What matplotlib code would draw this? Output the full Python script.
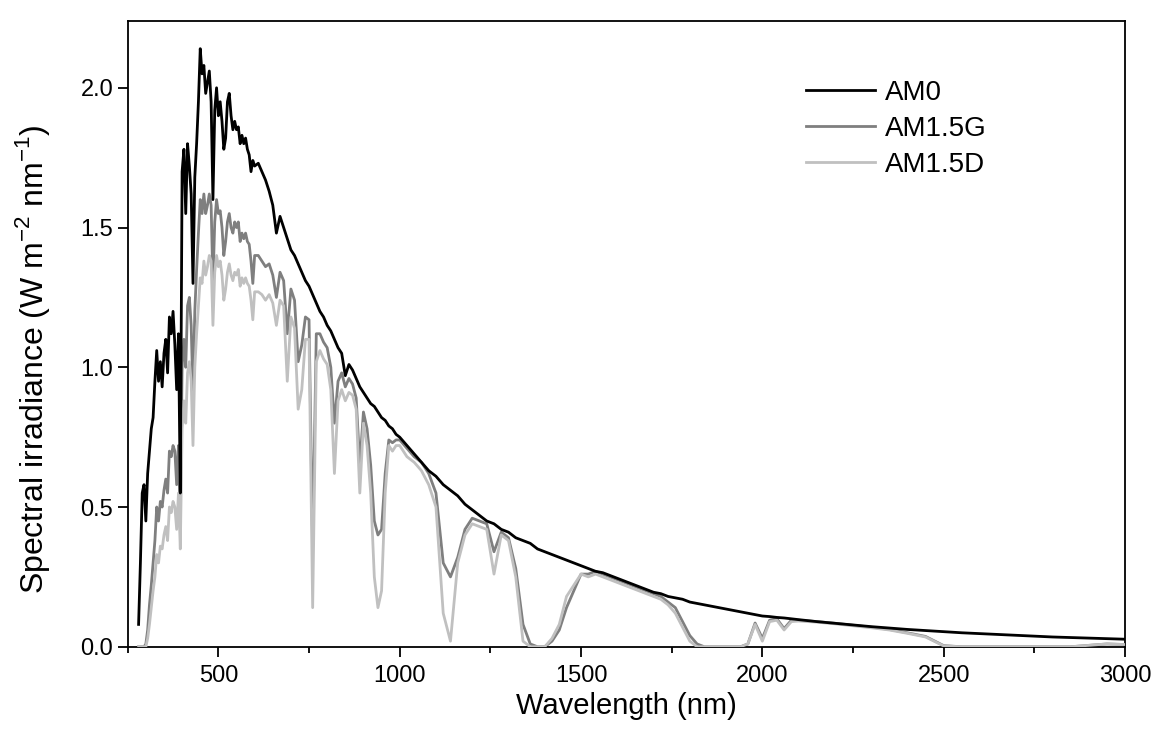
import numpy as np
import matplotlib
matplotlib.use('Agg')
import matplotlib.pyplot as plt
from matplotlib.ticker import MultipleLocator

plt.rcParams['font.family'] = ['Liberation Sans', 'DejaVu Sans']
plt.rcParams['mathtext.fontset'] = 'custom'
plt.rcParams['mathtext.rm'] = 'Liberation Sans'

# wavelength grid (nm)
wl_vis = list(range(280, 605, 5))
wl_nir = list(range(610, 1010, 10))
wl_swir = list(range(1020, 2120, 20))
wl_ir = list(range(2150, 3050, 50))
wavelength = np.array(wl_vis + wl_nir + wl_swir + wl_ir, dtype=float)

# AM0 extraterrestrial spectrum (W m-2 nm-1)
am0_vis = [0.08, 0.30, 0.55, 0.58, 0.45, 0.62, 0.70, 0.78, 0.82, 0.95,
           1.06, 0.95, 1.02, 0.93, 1.05, 1.10, 0.98, 1.18, 1.12, 1.20,
           1.08, 0.92, 1.12, 0.55, 1.70, 1.78, 1.55, 1.80, 1.72, 1.62,
           1.30, 1.68, 1.80, 1.95, 2.14, 2.05, 2.08, 1.98, 2.02, 2.06,
           1.95, 1.60, 1.92, 2.00, 1.90, 1.95, 1.88, 1.78, 1.82, 1.95,
           1.98, 1.90, 1.85, 1.88, 1.85, 1.86, 1.80, 1.83, 1.80, 1.82,
           1.78, 1.76, 1.70, 1.74, 1.72]
am0_nir = [1.73, 1.70, 1.67, 1.63, 1.58, 1.48, 1.54, 1.50, 1.46, 1.42,
           1.40, 1.37, 1.34, 1.31, 1.29, 1.26, 1.23, 1.20, 1.18, 1.15,
           1.13, 1.10, 1.07, 1.05, 0.97, 1.01, 0.99, 0.96, 0.93, 0.91,
           0.89, 0.87, 0.86, 0.84, 0.82, 0.81, 0.79, 0.78, 0.76, 0.75]
am0_swir = [0.72, 0.69, 0.66, 0.63, 0.61, 0.58, 0.56, 0.54, 0.51, 0.49,
            0.47, 0.45, 0.44, 0.42, 0.41, 0.39, 0.38, 0.37, 0.35, 0.34,
            0.33, 0.32, 0.31, 0.30, 0.29, 0.28, 0.27, 0.265, 0.255, 0.245,
            0.235, 0.225, 0.215, 0.205, 0.195, 0.19, 0.18, 0.175, 0.17, 0.16,
            0.155, 0.15, 0.145, 0.14, 0.135, 0.13, 0.125, 0.12, 0.115, 0.11,
            0.108, 0.105, 0.103, 0.100, 0.097]
am0_ir = [0.090, 0.084, 0.078, 0.072, 0.067, 0.062, 0.058, 0.054, 0.050,
          0.047, 0.044, 0.041, 0.038, 0.035, 0.033, 0.031, 0.029, 0.027]

# AM1.5 global
am15g_vis = [0.0, 0.0, 0.0, 0.0, 0.01, 0.06, 0.15, 0.22, 0.30, 0.38,
             0.50, 0.45, 0.52, 0.50, 0.56, 0.60, 0.55, 0.70, 0.68, 0.72,
             0.70, 0.58, 0.72, 0.45, 1.00, 1.10, 1.00, 1.22, 1.25, 1.15,
             0.90, 1.20, 1.35, 1.48, 1.60, 1.55, 1.62, 1.55, 1.58, 1.62,
             1.58, 1.30, 1.52, 1.60, 1.55, 1.56, 1.50, 1.40, 1.45, 1.52,
             1.55, 1.50, 1.48, 1.52, 1.50, 1.52, 1.45, 1.48, 1.46, 1.48,
             1.45, 1.44, 1.38, 1.30, 1.40]
am15g_nir = [1.40, 1.38, 1.36, 1.37, 1.33, 1.25, 1.34, 1.31, 1.12, 1.28,
             1.24, 1.02, 1.08, 1.18, 1.17, 0.35, 1.12, 1.12, 1.09, 1.07,
             1.00, 0.80, 0.95, 0.98, 0.93, 0.96, 0.94, 0.89, 0.65, 0.84,
             0.78, 0.65, 0.45, 0.40, 0.42, 0.62, 0.74, 0.73, 0.74, 0.74]
am15g_swir = [0.71, 0.68, 0.66, 0.62, 0.55, 0.30, 0.25, 0.32, 0.42, 0.46,
              0.45, 0.44, 0.34, 0.41, 0.39, 0.28, 0.08, 0.01, 0.0, 0.0,
              0.02, 0.06, 0.14, 0.20, 0.26, 0.26, 0.27, 0.26, 0.25, 0.24,
              0.23, 0.22, 0.21, 0.20, 0.19, 0.18, 0.16, 0.14, 0.09, 0.04,
              0.01, 0.0, 0.0, 0.0, 0.0, 0.0, 0.0, 0.01, 0.085, 0.03,
              0.095, 0.10, 0.065, 0.095, 0.095]
am15g_ir = [0.090, 0.084, 0.077, 0.070, 0.062, 0.050, 0.037, 0.004, 0.0,
            0.0, 0.0, 0.0, 0.0, 0.0, 0.0, 0.005, 0.01, 0.008]

# AM1.5 direct
am15d_vis = [0.0, 0.0, 0.0, 0.0, 0.0, 0.03, 0.08, 0.14, 0.20, 0.25,
             0.33, 0.30, 0.36, 0.35, 0.40, 0.43, 0.38, 0.50, 0.48, 0.52,
             0.50, 0.42, 0.55, 0.35, 0.78, 0.88, 0.80, 0.98, 1.02, 0.95,
             0.72, 1.00, 1.12, 1.22, 1.32, 1.30, 1.38, 1.33, 1.36, 1.40,
             1.38, 1.15, 1.34, 1.40, 1.36, 1.38, 1.33, 1.24, 1.28, 1.34,
             1.37, 1.33, 1.31, 1.34, 1.33, 1.35, 1.29, 1.32, 1.30, 1.32,
             1.30, 1.29, 1.24, 1.17, 1.27]
am15d_nir = [1.27, 1.26, 1.24, 1.26, 1.23, 1.15, 1.24, 1.22, 0.95, 1.18,
             1.14, 0.85, 0.92, 1.10, 1.10, 0.14, 1.02, 1.06, 1.03, 1.01,
             0.92, 0.62, 0.88, 0.92, 0.88, 0.91, 0.90, 0.85, 0.55, 0.80,
             0.72, 0.55, 0.25, 0.14, 0.20, 0.55, 0.72, 0.70, 0.72, 0.72]
am15d_swir = [0.68, 0.66, 0.63, 0.58, 0.50, 0.12, 0.02, 0.30, 0.40, 0.44,
              0.43, 0.42, 0.26, 0.40, 0.38, 0.25, 0.02, 0.0, 0.0, 0.0,
              0.03, 0.08, 0.18, 0.22, 0.26, 0.25, 0.26, 0.25, 0.24, 0.23,
              0.22, 0.21, 0.20, 0.19, 0.18, 0.17, 0.15, 0.12, 0.07, 0.02,
              0.0, 0.0, 0.0, 0.0, 0.0, 0.0, 0.0, 0.01, 0.08, 0.02,
              0.09, 0.095, 0.06, 0.09, 0.092]
am15d_ir = [0.088, 0.082, 0.075, 0.068, 0.060, 0.048, 0.035, 0.003, 0.0,
            0.0, 0.0, 0.0, 0.0, 0.0, 0.0, 0.005, 0.01, 0.008]

am0 = np.array(am0_vis + am0_nir + am0_swir + am0_ir)
am15g = np.array(am15g_vis + am15g_nir + am15g_swir + am15g_ir)
am15d = np.array(am15d_vis + am15d_nir + am15d_swir + am15d_ir)

fig = plt.figure(figsize=(11.61, 7.40), dpi=100)
ax = fig.add_axes([0.110, 0.126, 0.859, 0.846])

l_g, = ax.plot(wavelength, am15g, color='#7f7f7f', lw=2.0, label='AM1.5G', zorder=2)
l_d, = ax.plot(wavelength, am15d, color='#c0c0c0', lw=2.0, label='AM1.5D', zorder=3)
l_0, = ax.plot(wavelength, am0, color='black', lw=2.0, label='AM0', zorder=4)

ax.set_xlim(250, 3000)
ax.set_ylim(0, 2.24)
ax.xaxis.set_major_locator(MultipleLocator(500))
ax.xaxis.set_minor_locator(MultipleLocator(250))
ax.yaxis.set_major_locator(MultipleLocator(0.5))
ax.yaxis.set_major_formatter(plt.FormatStrFormatter('%.1f'))
ax.tick_params(which='major', direction='out', length=7, width=1.3, labelsize=17)
ax.tick_params(axis='x', which='major', pad=6)
ax.tick_params(which='minor', direction='out', length=4, width=1.3)
for sp in ax.spines.values():
    sp.set_linewidth(1.3)

ax.set_xlabel('Wavelength (nm)', fontsize=21, labelpad=4)
ax.set_ylabel('Spectral irradiance (W m$^{-2}$ nm$^{-1}$)', fontsize=23)
ax.yaxis.set_label_coords(-0.076, 0.46)

ax.legend(handles=[l_0, l_g, l_d], loc='upper left', bbox_to_anchor=(0.655, 0.945),
          frameon=False, fontsize=20, handlelength=2.5, handletextpad=0.35,
          labelspacing=0.35)

fig.savefig('out.png', dpi=100)
